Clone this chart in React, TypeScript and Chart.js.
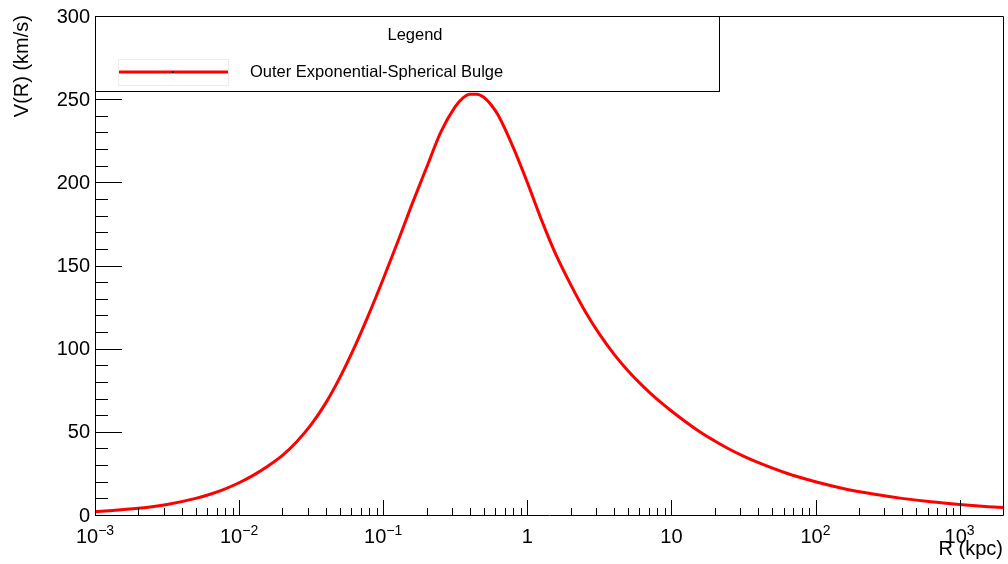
import React, { useEffect, useRef } from "react";
import { Chart, registerables } from "chart.js";

Chart.register(...registerables);

// Radius (kpc) sampled along the curve, and the read-off rotation velocity (km/s)
const radiusKpc = [
  0.001, 0.002, 0.00316, 0.005, 0.0063, 0.00794, 0.01, 0.0126, 0.0158, 0.02,
  0.0251, 0.0316, 0.0398, 0.05, 0.063, 0.0794, 0.1, 0.126, 0.158, 0.2,
  0.251, 0.316, 0.355, 0.398, 0.447, 0.501, 0.562, 0.631, 0.794, 1,
  1.26, 1.58, 2, 2.51, 3.16, 3.98, 5.01, 6.31, 7.94, 10,
  12.6, 15.8, 20, 25.1, 31.6, 39.8, 63.1, 100, 158, 251,
  398, 631, 1000, 1585, 2000,
];
const velocityKms = [
  2.0, 4.0, 6.3, 10.0, 12.5, 15.6, 19.4, 24.0, 29.3, 35.8,
  44.0, 54.3, 67.1, 82.6, 100.6, 120.6, 141.9, 164.1, 186.6, 208.9,
  230.2, 245.5, 250.5, 253, 253, 251, 246.5, 240, 221.5, 200,
  177, 156.5, 138.5, 122.7, 108.9, 96.9, 86.6, 77.6, 69.6, 62.5,
  55.9, 49.9, 44.5, 39.7, 35.4, 31.6, 25.1, 20.0, 15.8, 12.6,
  10.0, 7.9, 6.3, 5.0, 4.5,
];

const seriesLabel = "Outer Exponential-Spherical Bulge";
const legendHeader = "Legend";
const xTitle = "R (kpc)";
const yTitle = "V(R) (km/s)";

const xMin = 0.001;
const xMax = 2000;
const yMin = 0;
const yMax = 300;

const yMajorTicks = [0, 50, 100, 150, 200, 250, 300];
const yMinorStep = 10;
const xDecadeExponents = [-3, -2, -1, 0, 1, 2, 3];
const xLabelBase = ["10", "10", "10", "1", "10", "10", "10"];
const xLabelSup = ["\u22123", "\u22122", "\u22121", "", "", "2", "3"];

const FONT = "'Liberation Sans', Arial, Helvetica, sans-serif";

const rootStylePlugin = {
  id: "rootStyle",
  afterDatasetsDraw(chart: any) {
    const ctx: CanvasRenderingContext2D = chart.ctx;
    const xs = chart.scales.x;
    const ys = chart.scales.y;
    const area = chart.chartArea;
    const L = area.left;
    const R = area.right;
    const T = area.top;
    const B = area.bottom;

    ctx.save();
    ctx.strokeStyle = "#000";
    ctx.fillStyle = "#000";
    ctx.lineWidth = 1;

    // y ticks (inside)
    ctx.beginPath();
    for (let v = yMin; v <= yMax; v += yMinorStep) {
      const py = Math.round(ys.getPixelForValue(v)) + 0.5;
      const len = v % 50 === 0 ? 27 : 13;
      ctx.moveTo(L, py);
      ctx.lineTo(L + len, py);
    }
    // x ticks (inside)
    for (const e of xDecadeExponents) {
      for (let m = 1; m <= 9; m++) {
        const val = m * Math.pow(10, e);
        if (val < xMin * 0.999 || val > xMax * 1.001) continue;
        const px = Math.round(xs.getPixelForValue(val)) + 0.5;
        const len = m === 1 ? 15 : 7;
        ctx.moveTo(px, B);
        ctx.lineTo(px, B - len);
      }
    }
    ctx.stroke();

    // frame
    ctx.beginPath();
    ctx.rect(Math.round(L) + 0.5, Math.round(T) + 0.5, Math.round(R) - Math.round(L), Math.round(B) - Math.round(T));
    ctx.stroke();

    // y labels
    ctx.font = `20px ${FONT}`;
    ctx.textAlign = "right";
    ctx.textBaseline = "middle";
    for (const v of yMajorTicks) {
      ctx.fillText(String(v), L - 5, ys.getPixelForValue(v) + 1);
    }

    // x labels with superscripts
    ctx.textBaseline = "alphabetic";
    ctx.textAlign = "left";
    xDecadeExponents.forEach((e, i) => {
      const px = xs.getPixelForValue(Math.pow(10, e));
      ctx.font = `20px ${FONT}`;
      const wb = ctx.measureText(xLabelBase[i]).width;
      ctx.font = `14px ${FONT}`;
      const ws = xLabelSup[i] ? ctx.measureText(xLabelSup[i]).width : 0;
      const start = px - (wb + ws) / 2;
      ctx.font = `20px ${FONT}`;
      ctx.fillText(xLabelBase[i], start, 543);
      if (xLabelSup[i]) {
        ctx.font = `14px ${FONT}`;
        ctx.fillText(xLabelSup[i], start + wb, 535);
      }
    });

    // axis titles
    ctx.font = `20px ${FONT}`;
    ctx.textAlign = "right";
    ctx.textBaseline = "alphabetic";
    ctx.fillText(xTitle, 1003, 555);

    ctx.save();
    ctx.translate(22.5, 15);
    ctx.rotate(-Math.PI / 2);
    ctx.textAlign = "right";
    ctx.textBaseline = "middle";
    ctx.fillText(yTitle, 0, 0);
    ctx.restore();

    // legend box
    const lx0 = 95, ly0 = 16, lx1 = 719, ly1 = 91;
    ctx.fillStyle = "#fff";
    ctx.fillRect(lx0, ly0, lx1 - lx0, ly1 - ly0);
    ctx.strokeStyle = "#000";
    ctx.lineWidth = 1;
    ctx.strokeRect(lx0 + 0.5, ly0 + 0.5, lx1 - lx0, ly1 - ly0);

    ctx.fillStyle = "#000";
    ctx.font = `16.5px ${FONT}`;
    ctx.textAlign = "center";
    ctx.textBaseline = "middle";
    ctx.fillText(legendHeader, 415, 35);

    // entry sample
    ctx.strokeStyle = "#ececec";
    ctx.lineWidth = 1;
    ctx.strokeRect(118.5, 59.5, 110, 26);
    ctx.strokeStyle = "#ff0000";
    ctx.lineWidth = 3;
    ctx.beginPath();
    ctx.moveTo(119, 72);
    ctx.lineTo(228, 72);
    ctx.stroke();
    ctx.fillStyle = "#000";
    ctx.fillRect(172, 71.5, 1.5, 1.5);

    ctx.font = `16.5px ${FONT}`;
    ctx.textAlign = "left";
    ctx.textBaseline = "middle";
    ctx.fillText(seriesLabel, 250, 72);

    ctx.restore();
  },
};

export default function App() {
  const canvasRef = useRef<HTMLCanvasElement | null>(null);

  useEffect(() => {
    if (!canvasRef.current) return;
    const points = radiusKpc.map((r, i) => ({ x: r, y: velocityKms[i] }));
    const chart = new Chart(canvasRef.current, {
      type: "line",
      data: {
        datasets: [
          {
            label: seriesLabel,
            data: points,
            borderColor: "#ff0000",
            borderWidth: 3,
            pointRadius: 0,
            cubicInterpolationMode: "monotone",
            fill: false,
          },
        ],
      },
      options: {
        responsive: false,
        animation: false,
        devicePixelRatio: 1,
        layout: { padding: { left: 95, right: 5, top: 16, bottom: 49 } },
        scales: {
          x: { type: "logarithmic", min: xMin, max: xMax, display: false },
          y: { type: "linear", min: yMin, max: yMax, display: false },
        },
        plugins: {
          legend: { display: false },
          tooltip: { enabled: false },
        },
      },
      plugins: [rootStylePlugin],
    });
    return () => chart.destroy();
  }, []);

  return (
    <div style={{ position: "absolute", left: 0, top: 0, width: 1008, height: 564, background: "#fff" }}>
      <canvas ref={canvasRef} width={1008} height={564} style={{ display: "block" }} />
    </div>
  );
}
